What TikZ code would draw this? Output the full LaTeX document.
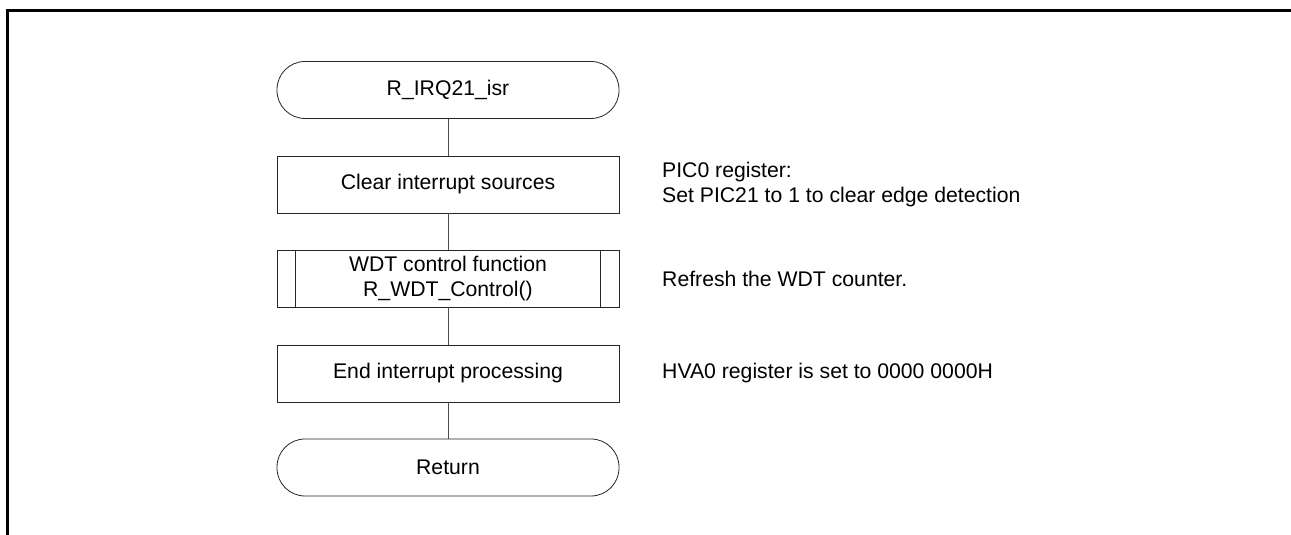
\documentclass[tikz,border=0pt]{standalone}
\usepackage{fontspec}
\setmainfont{Liberation Sans}
\begin{document}
\begin{tikzpicture}[x=1pt,y=1pt,
  font=\fontsize{21.2}{24.5}\selectfont,
  box/.style={draw=black!85,line width=0.8pt,rectangle,minimum width=342pt,minimum height=57pt,inner sep=0pt,align=center},
  term/.style={box,rounded corners=28pt},
  conn/.style={draw=black!70,line width=0.9pt},
  note/.style={anchor=west,inner sep=0pt,align=left}]
\useasboundingbox (0,0) rectangle (1291,535);
\fill[white] (0,0) rectangle (1291,535);
\draw[line width=3pt,line join=miter] (7.5,0) -- (7.5,524.3) -- (1291,524.3);
\node[term] (start) at (448,445) {R\_IRQ21\_isr};
\node[box] (clr) at (448,350.5) {Clear interrupt sources};
\node[box] (wdt) at (448,256.5) {WDT control function\\R\_WDT\_Control()};
\draw[draw=black!85,line width=0.8pt] ([xshift=19pt]wdt.north west) -- ([xshift=19pt]wdt.south west)
  ([xshift=-19pt]wdt.north east) -- ([xshift=-19pt]wdt.south east);
\node[box] (endp) at (448,161.5) {End interrupt processing};
\node[term] (ret) at (448,67.5) {Return};
\draw[conn] (start) -- (clr);
\draw[conn] (clr) -- (wdt);
\draw[conn] (wdt) -- (endp);
\draw[conn] (endp) -- (ret);
\node[note] (n1) at (662,350.5) {PIC0 register:\\Set PIC21 to 1 to clear edge detection};
\node[note] (n2) at (662,256.5) {Refresh the WDT counter.};
\node[note] (n3) at (662,161.5) {HVA0 register is set to 0000 0000H};
\end{tikzpicture}
\end{document}
